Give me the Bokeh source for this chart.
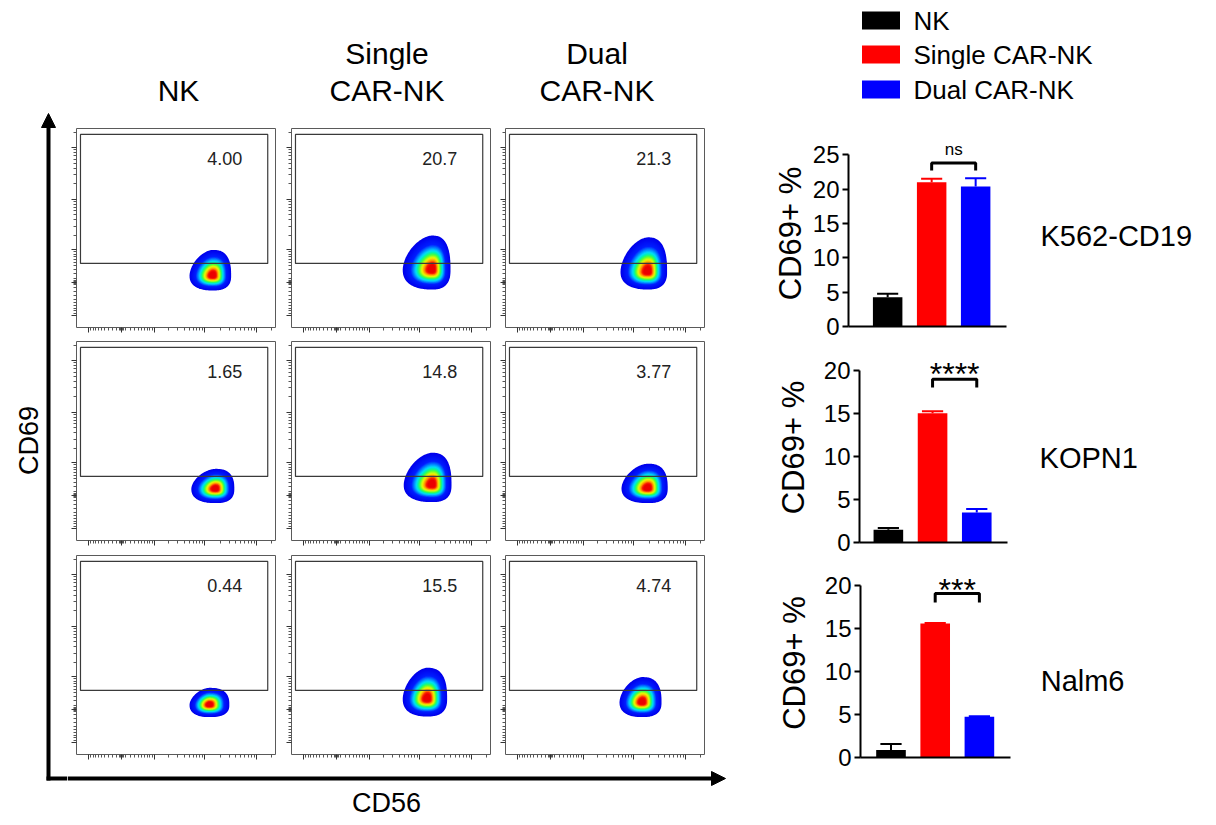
import numpy as np
from bokeh.plotting import figure
from bokeh.layouts import row, column
from bokeh.models import FixedTicker, ColumnDataSource, Range1d, CustomJSTickFormatter
from bokeh.embed import file_html
from bokeh.resources import INLINE
from bokeh.core.properties import value

FONT = "Liberation Sans"

# ---------------- data ----------------
effector_groups = ["NK", "Single CAR-NK", "Dual CAR-NK"]
header_line1 = ["", "Single", "Dual"]
header_line2 = ["NK", "CAR-NK", "CAR-NK"]
target_lines = ["K562-CD19", "KOPN1", "Nalm6"]
gate_percent = [["4.00", "20.7", "21.3"],
                ["1.65", "14.8", "3.77"],
                ["0.44", "15.5", "4.74"]]

# population density peak and spread (biexponential display units, 0..1) [target][effector]
peak_cd56 = [[0.685, 0.707, 0.715], [0.698, 0.707, 0.715], [0.668, 0.682, 0.687]]
peak_cd69 = [[0.261, 0.291, 0.281], [0.260, 0.280, 0.263], [0.250, 0.280, 0.263]]
spread_left = [[0.117, 0.148, 0.137], [0.121, 0.143, 0.132], [0.100, 0.123, 0.114]]
spread_right = [[0.092, 0.092, 0.097], [0.095, 0.097, 0.100], [0.100, 0.100, 0.097]]
spread_up = [[0.129, 0.171, 0.172], [0.100, 0.161, 0.123], [0.085, 0.156, 0.126]]
spread_down = [[0.075, 0.100, 0.090], [0.072, 0.087, 0.075], [0.062, 0.089, 0.075]]

# CD69+ gate (display units)
gate_cd56_range = [0.02, 0.961]
gate_cd69_range = [0.322, 0.97]

# biexponential axis ticks (raw fluorescence values)
flow_major_ticks = [-1000, 0, 1000, 10000, 100000]
flow_minor_ticks = ([-900, -800, -700, -600, -500, -400, -300, -200, -100, -50, -25, 25, 50]
                    + [100, 200, 300, 400, 500, 600, 700, 800, 900]
                    + [2000, 3000, 4000, 5000, 6000, 7000, 8000, 9000]
                    + [20000, 30000, 40000, 50000, 60000, 70000, 80000, 90000, 200000])

# bar charts: CD69+ %  [target][effector]
bar_mean = [[4.27, 21.0, 20.4], [1.48, 15.05, 3.5], [0.86, 15.6, 4.74]]
bar_err = [[0.49, 0.5, 1.2], [0.2, 0.25, 0.39], [0.7, 0.06, 0.07]]
bar_colors = ["#000000", "#ff0000", "#0000ff"]
y_axis_max = [25, 20, 20]
y_ticks = [[0, 5, 10, 15, 20, 25], [0, 5, 10, 15, 20], [0, 5, 10, 15, 20]]
sig_labels = ["ns", "****", "***"]
sig_label_y = [25.7, 19.57, 19.45]
bracket_top = [23.8, 19.0, 19.1]
bracket_leg = [1.1, 0.95, 1.05]

# ---------------- helpers ----------------
def biex(v):
    v = np.asarray(v, dtype=float)
    return 0.226 + 0.26 * np.arcsinh(v / 494.0) / np.log(10)

STOPS = [(0.0, (0, 0, 235)), (0.30, (0, 30, 255)), (0.42, (0, 140, 255)),
         (0.51, (0, 220, 250)), (0.58, (0, 245, 170)), (0.65, (70, 255, 60)),
         (0.76, (240, 250, 0)), (0.86, (255, 140, 0)), (0.93, (250, 30, 0)),
         (1.0, (235, 0, 0))]

def jet(t):
    for (t0, c0), (t1, c1) in zip(STOPS[:-1], STOPS[1:]):
        if t <= t1:
            f = (t - t0) / (t1 - t0)
            c = [int(round(a + (b - a) * f)) for a, b in zip(c0, c1)]
            return "#%02x%02x%02x" % tuple(c)
    return "#%02x%02x%02x" % STOPS[-1][1]

E_UR, E_UL, E_LL, E_LR = 2.6, 1.7, 2.4, 2.6

def contour(px, py, L, R, U, D, s, n=160):
    th = np.linspace(0, 2 * np.pi, n, endpoint=False)
    c, si = np.cos(th), np.sin(th)
    ex = np.where(si >= 0, np.where(c >= 0, E_UR, E_UL), np.where(c >= 0, E_LR, E_LL))
    rx = np.where(c >= 0, R, L)
    ry = np.where(si >= 0, U, D)
    x = px + s * rx * np.sign(c) * np.abs(c) ** (2 / ex)
    y = py + s * ry * np.sign(si) * np.abs(si) ** (2 / ex)
    return list(x), list(y)

N_LEVELS = 28
EMPTY = CustomJSTickFormatter(code="return ''")

def flow_panel(r, c, w, h, mbr, mbb):
    p = figure(width=w, height=h, x_range=Range1d(0, 1), y_range=Range1d(0, 1),
               toolbar_location=None, output_backend="svg", title=None,
               min_border_left=9, min_border_right=mbr, min_border_top=6,
               min_border_bottom=mbb)
    p.grid.visible = False
    p.outline_line_color = "#5a5a5a"
    p.outline_line_width = 1
    for ax in (p.xaxis[0], p.yaxis[0]):
        ax.ticker = FixedTicker(ticks=[float(v) for v in biex(flow_major_ticks)],
                                minor_ticks=[float(v) for v in biex(flow_minor_ticks)])
        ax.formatter = EMPTY
        ax.axis_line_color = None
        ax.major_tick_out = 5
        ax.major_tick_in = 0
        ax.minor_tick_out = 3
        ax.minor_tick_in = 0
        ax.major_tick_line_color = "#333333"
        ax.minor_tick_line_color = "#555555"
        ax.major_label_text_font_size = "1px"
        ax.major_label_standoff = 0
    xs, ys, cols = [], [], []
    for k in range(N_LEVELS):
        t = k / (N_LEVELS - 1)
        s = 1.0 - 0.84 * t
        x, y = contour(peak_cd56[r][c], peak_cd69[r][c], spread_left[r][c],
                       spread_right[r][c], spread_up[r][c], spread_down[r][c], s)
        xs.append(x); ys.append(y); cols.append(jet(t))
    p.patches(xs="xs", ys="ys", fill_color="c", line_color=None,
              source=ColumnDataSource(dict(xs=xs, ys=ys, c=cols)))
    p.quad(left=[gate_cd56_range[0]], right=[gate_cd56_range[1]],
           bottom=[gate_cd69_range[0]], top=[gate_cd69_range[1]],
           fill_color=None, line_color="#3a3a3a", line_width=1.2)
    p.text(x=[0.745], y=[0.848], text=[gate_percent[r][c]], text_align="center",
           text_baseline="middle", text_font=value(FONT), text_font_size="18px",
           text_color="#222222")
    return p

def blank(w, h, x0=0, mbl=0):
    p = figure(width=w, height=h, x_range=Range1d(x0, w), y_range=Range1d(0, h),
               x_axis_type=None, y_axis_type=None, toolbar_location=None,
               output_backend="svg", title=None, min_border=0, min_border_left=mbl)
    p.outline_line_color = None
    p.grid.visible = False
    return p

TOTAL_H = 820

# ---------------- left strip (y arrow) ----------------
ystrip = blank(67, TOTAL_H)
# local: X = sx, Y = 820 - sy
ystrip.segment(x0=[48], y0=[40], x1=[48], y1=[695], line_width=4, line_color="black")
ystrip.patch(x=[41, 55, 48], y=[693, 693, 707], fill_color="black", line_color="black")
ystrip.segment(x0=[46], y0=[42], x1=[67], y1=[42], line_width=4, line_color="black")
ystrip.text(x=[28], y=[380], text=["CD69"], angle=np.pi / 2, text_align="center",
            text_baseline="middle", text_font=value(FONT), text_font_size="27px")

# ---------------- header ----------------
header = blank(663, 122)
# local: X = sx - 67, Y = 122 - sy
hx = [111, 319.5, 529.5]
header.text(x=hx, y=[69, 69, 69], text=header_line1, text_align="center",
            text_baseline="middle", text_font=value(FONT), text_font_size="30px")
header.text(x=hx, y=[32, 32, 32], text=header_line2, text_align="center",
            text_baseline="middle", text_font=value(FONT), text_font_size="30px")

# ---------------- flow grid ----------------
col_w = [215, 214, 215]
col_mbr = [7, 6, 7]
row_h = [213, 214, 213]
row_mbb = [8, 9, 8]
grid = column(*[row(*[flow_panel(r, c, col_w[c], row_h[r], col_mbr[c], row_mbb[r])
                      for c in range(3)]) for r in range(3)])

# ---------------- bottom strip (x arrow) ----------------
xstrip = blank(663, 58)
# local: X = sx - 67, Y = 820 - sy
xstrip.segment(x0=[0], y0=[42], x1=[646], y1=[42], line_width=4, line_color="black")
xstrip.patch(x=[644, 644, 658], y=[35, 49, 42], fill_color="black", line_color="black")
xstrip.text(x=[319], y=[18], text=["CD56"], text_align="center", text_baseline="middle",
            text_font=value(FONT), text_font_size="27px")

center_block = column(header, grid, xstrip)

# ---------------- legend ----------------
legend_fig = blank(478, 120)
# local: X = sx - 730, Y = 120 - sy
leg_y = [100, 66, 31]
legend_fig.rect(x=[150.5] * 3, y=leg_y, width=38, height=18, fill_color=bar_colors,
                line_color=None)
legend_fig.text(x=[183] * 3, y=leg_y, text=effector_groups, text_align="left",
                text_baseline="middle", text_font=value(FONT), text_font_size="26px")

# ---------------- bar charts ----------------
chart_specs = [
    # height, mbl, mbt, mbb, x0, px_per_unit, yend, axis-label standoff, label x, label y
    (220, 118, 20, 14, -0.89, 44.0, 27.08, 2, 3.474, 13.2),
    (216, 129, 12, 14, -0.653, 44.2, 22.13, 10, 3.421, 9.87),
    (264, 130, 12, 63, -0.69, 44.2, 22.01, 10, 3.387, 8.93),
]

def bar_chart(i):
    h, mbl, mbt, mbb, x0, ppu, yend, lstand, lx, ly = chart_specs[i]
    x1 = x0 + (478 - mbl) / ppu
    p = figure(width=478, height=h, x_range=Range1d(x0, x1), y_range=Range1d(0, yend),
               toolbar_location=None, output_backend="svg", title=None,
               min_border_left=mbl, min_border_right=0, min_border_top=mbt,
               min_border_bottom=mbb)
    p.grid.visible = False
    p.outline_line_color = None
    xs = [0, 1, 2]
    errs = [m + e for m, e in zip(bar_mean[i], bar_err[i])]
    src = ColumnDataSource(dict(x=xs, top=bar_mean[i], err=errs, color=bar_colors,
                                cl=[x - 0.24 for x in xs], cr=[x + 0.24 for x in xs]))
    p.vbar(x="x", top="top", bottom=0, width=0.67, fill_color="color", line_color=None,
           source=src)
    p.segment(x0="x", y0="top", x1="x", y1="err", line_color="color", line_width=2, source=src)
    p.segment(x0="cl", y0="err", x1="cr", y1="err", line_color="color", line_width=2, source=src)
    yb, lg = bracket_top[i], bracket_leg[i]
    p.line(x=[1, 1, 2, 2], y=[yb - lg, yb, yb, yb - lg], line_color="black", line_width=3)
    fs = "17px" if sig_labels[i] == "ns" else "32px"
    p.text(x=[1.5], y=[sig_label_y[i]], text=[sig_labels[i]], text_align="center",
           text_baseline="middle", text_font=value(FONT), text_font_size=fs)
    p.text(x=[lx], y=[ly], text=[target_lines[i]], text_align="left", text_baseline="middle",
           text_font=value(FONT), text_font_size="29px", text_color="black")
    ya = p.yaxis[0]
    ya.ticker = FixedTicker(ticks=y_ticks[i], minor_ticks=[])
    ya.bounds = (0, y_axis_max[i])
    ya.axis_line_width = 2
    ya.major_tick_line_width = 2
    ya.major_tick_out = 6
    ya.major_tick_in = 0
    ya.minor_tick_line_color = None
    ya.major_label_text_font = FONT
    ya.major_label_text_font_size = "24px"
    ya.major_label_text_color = "black"
    ya.major_label_standoff = 3
    ya.axis_label = "CD69+ %"
    ya.axis_label_text_font = FONT
    ya.axis_label_text_font_size = "31px"
    ya.axis_label_text_font_style = "normal"
    ya.axis_label_text_color = "black"
    ya.axis_label_standoff = lstand
    xa = p.xaxis[0]
    xa.ticker = FixedTicker(ticks=[], minor_ticks=[])
    xa.bounds = (x0, 2.70)
    xa.axis_line_width = 2
    xa.major_tick_line_color = None
    xa.minor_tick_line_color = None
    xa.formatter = EMPTY
    xa.major_label_text_font_size = "1px"
    xa.major_label_standoff = 0
    return p

right_block = column(legend_fig, row(bar_chart(0)), row(bar_chart(1)), row(bar_chart(2)))

layout = row(ystrip, center_block, right_block)
open("out.html", "w").write(file_html(layout, INLINE))
